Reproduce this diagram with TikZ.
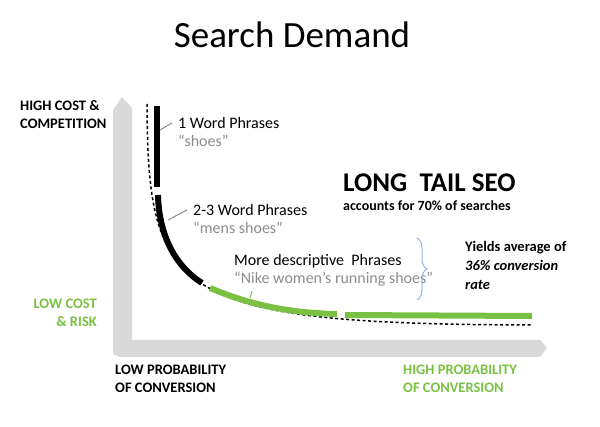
\documentclass[tikz,border=0pt]{standalone}
\usepackage{fontspec}
\setmainfont{Carlito}
\usetikzlibrary{decorations.pathreplacing}
\definecolor{gr}{HTML}{7AC143}
\definecolor{lg}{HTML}{D9D9D9}
\definecolor{tg}{HTML}{8C8C8C}
\definecolor{bl}{HTML}{8EB4E3}
\begin{document}
\begin{tikzpicture}[x=1pt,y=-1pt,
 lab/.style={font=\fontsize{14.5}{18}\selectfont\bfseries,align=left,anchor=north west,inner sep=0},
 txt/.style={font=\fontsize{16}{20}\selectfont,align=left,anchor=west,inner sep=0},
 qt/.style={txt,text=tg},
 lead/.style={tg,line width=1pt},
 seg/.style={line width=6pt}]
\useasboundingbox (0,0) rectangle (600,427);
\fill[lg] (113,110) -- (122,97) -- (132,108) -- (132,340) -- (113,354) -- cycle;
\fill[lg] (113,354) -- (130,340) -- (540,340) -- (547,348) -- (540,357) -- (120,357) -- cycle;
\node[font=\fontsize{37}{44}\selectfont] (title) at (292,35) {Search Demand};
\node[lab] (hc) at (20,100) {HIGH COST \&\\COMPETITION};
\node[lab,text=gr,align=right,anchor=north east] (lc) at (97,299) {LOW COST\\\& RISK};
\node[lab] (lp) at (115,365) {LOW PROBABILITY\\OF CONVERSION};
\node[lab,text=gr] (hp) at (403,365) {HIGH PROBABILITY\\OF CONVERSION};
\draw[line width=1.5pt,dash pattern=on 3pt off 2.5pt] (147,104) .. controls (148,295) and (172,324) .. (533,325);
\draw[seg] (157,106) -- (157,187);
\draw[seg] (158,195) .. controls (159,235) and (175,266) .. (202,283);
\draw[seg,gr] (210,288) .. controls (250,305) and (290,313) .. (337,314);
\draw[seg,gr] (345,315) -- (532,316);
\coordinate (c1) at (160,130);
\coordinate (c2) at (168,220);
\coordinate (c3) at (250,298);
\node[txt] (w1) at (178,123) {1 Word Phrases};
\node[qt] (q1) at (178,141) {“shoes”};
\node[txt] (w2) at (193,210) {2-3 Word Phrases};
\node[qt] (q2) at (193,228) {“mens shoes”};
\node[txt] (w3) at (234,261) {More descriptive\ \ Phrases};
\node[qt] (q3) at (234,279) {“Nike women’s running shoes”};
\draw[lead] (c1) -- ([xshift=-6pt]w1.west);
\draw[lead] (c2) -- ([xshift=-6pt]w2.west);
\draw[gr,line width=1pt] (c3) -- ++(2,-7);
\draw[bl,line width=1pt,decorate,decoration={brace,amplitude=10pt}] (417,238) -- (417,300);
\node[font=\fontsize{27}{32}\selectfont\bfseries,anchor=west,inner sep=0] (lt) at (343,183) {LONG\ \ TAIL SEO};
\node[font=\fontsize{14}{18}\selectfont\bfseries,anchor=west,inner sep=0] (ac) at (343,206) {accounts for 70\% of searches};
\node[font=\fontsize{14.5}{19}\selectfont\bfseries,align=left,anchor=north west,inner sep=0] (y) at (465,241) {Yields average of\\\itshape 36\% conversion\\\itshape rate};
\end{tikzpicture}
\end{document}
